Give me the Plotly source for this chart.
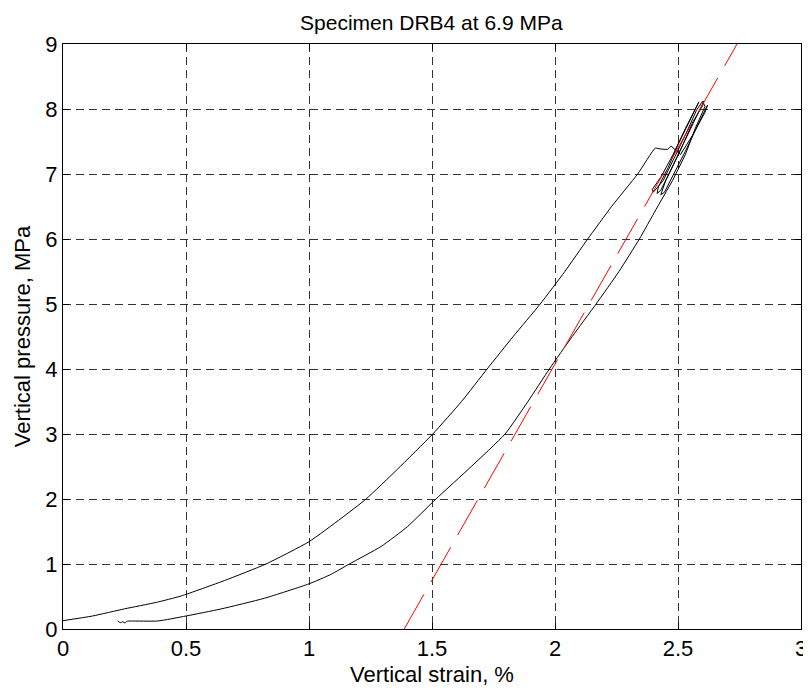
import plotly.graph_objects as go

# Lower (right) branch: strain %, pressure MPa
lower_x = [0.222, 0.233, 0.243, 0.252, 0.26, 0.276, 0.385, 0.5, 0.642, 0.818, 1.0,
           1.089, 1.164, 1.293, 1.40, 1.516, 1.659, 1.797, 1.89, 1.977, 2.07, 2.167,
           2.26, 2.343, 2.41, 2.478]
lower_y = [0.123, 0.097, 0.112, 0.092, 0.118, 0.123, 0.123, 0.2, 0.308, 0.472, 0.695,
           0.84, 1.0, 1.27, 1.574, 2.0, 2.497, 3.0, 3.5, 4.0, 4.5, 5.0,
           5.5, 6.0, 6.45, 6.9]

# Reload / unload cycles near peak
cyc_x = [2.53, 2.57, 2.61, 2.60,
         2.575, 2.53, 2.48, 2.44, 2.40, 2.395,
         2.43, 2.48, 2.53, 2.57, 2.585, 2.58,
         2.55, 2.50, 2.46, 2.42, 2.415, 2.43,
         2.47, 2.52, 2.56, 2.60, 2.605, 2.59,
         2.55, 2.50, 2.45, 2.43, 2.445,
         2.48, 2.53, 2.58, 2.62, 2.61,
         2.56, 2.51, 2.472]
cyc_y = [7.3, 7.7, 8.04, 8.12,
         7.98, 7.6, 7.2, 6.9, 6.72, 6.76,
         6.95, 7.3, 7.7, 8.0, 8.11, 8.06,
         7.85, 7.45, 7.1, 6.8, 6.7, 6.75,
         7.05, 7.45, 7.8, 8.05, 8.12, 8.0,
         7.7, 7.3, 6.9, 6.68, 6.72,
         6.98, 7.35, 7.75, 8.06, 7.95,
         7.6, 7.3, 7.43]

# Upper (left) branch, from peak back to origin
upper_x = [2.458, 2.42, 2.408, 2.336, 2.23, 2.133, 2.04, 1.94, 1.83, 1.724, 1.62, 1.503,
           1.36, 1.232, 1.13, 1.0, 0.825, 0.656, 0.48, 0.38, 0.25, 0.12, 0.0]
upper_y = [7.38, 7.39, 7.40, 7.0, 6.5, 6.0, 5.5, 5.0, 4.5, 4.0, 3.5, 3.0,
           2.46, 2.0, 1.70, 1.343, 1.0, 0.745, 0.508, 0.41, 0.31, 0.2, 0.128]

# Red dashed fitted line
fit_x = [1.387, 2.74]
fit_y = [0.0, 9.0]

x_ticks = [0, 0.5, 1, 1.5, 2, 2.5, 3]
x_labels = ["0", "0.5", "1", "1.5", "2", "2.5", "3"]
y_ticks = list(range(0, 10))

blk = dict(color="black", width=1)
fig = go.Figure()
fig.add_trace(go.Scatter(x=lower_x, y=lower_y, mode="lines",
                         line=dict(**blk, shape="spline", smoothing=0.5), showlegend=False))
fig.add_trace(go.Scatter(x=[lower_x[-1]] + cyc_x, y=[lower_y[-1]] + cyc_y, mode="lines",
                         line=blk, showlegend=False))
fig.add_trace(go.Scatter(x=[cyc_x[-1]] + upper_x, y=[cyc_y[-1]] + upper_y, mode="lines",
                         line=dict(**blk, shape="spline", smoothing=0.5), showlegend=False))
fig.add_trace(go.Scatter(x=fit_x, y=fit_y, mode="lines",
                         line=dict(color="red", width=1, dash="40px,14px"), showlegend=False))

font = "Liberation Sans, Arial, Helvetica, sans-serif"
axis_common = dict(
    showline=True, linecolor="black", linewidth=1, mirror="ticks",
    ticks="inside", ticklen=6, tickcolor="black", tickwidth=1,
    showgrid=True, gridcolor="#333333", gridwidth=1, griddash="8px,5px",
    zeroline=False, tickfont=dict(family=font, size=22, color="black"),
    automargin=False,
)
fig.update_xaxes(range=[0, 3], tickvals=x_ticks, ticktext=x_labels,
                 title=dict(text="Vertical strain, %", font=dict(family=font, size=22, color="black"), standoff=6),
                 **axis_common)
fig.update_yaxes(range=[0, 9], tickvals=y_ticks,
                 title=dict(text="Vertical pressure, MPa", font=dict(family=font, size=22, color="black"), standoff=8),
                 **axis_common)
fig.update_layout(
    width=811, height=693,
    margin=dict(l=55, r=18, t=36, b=72),
    plot_bgcolor="white", paper_bgcolor="white",
    title=dict(text="Specimen DRB4 at 6.9 MPa", x=0.522, xanchor="center", y=0.979, yanchor="middle",
               font=dict(family=font, size=21, color="black")),
)
fig.write_html("out.html")
